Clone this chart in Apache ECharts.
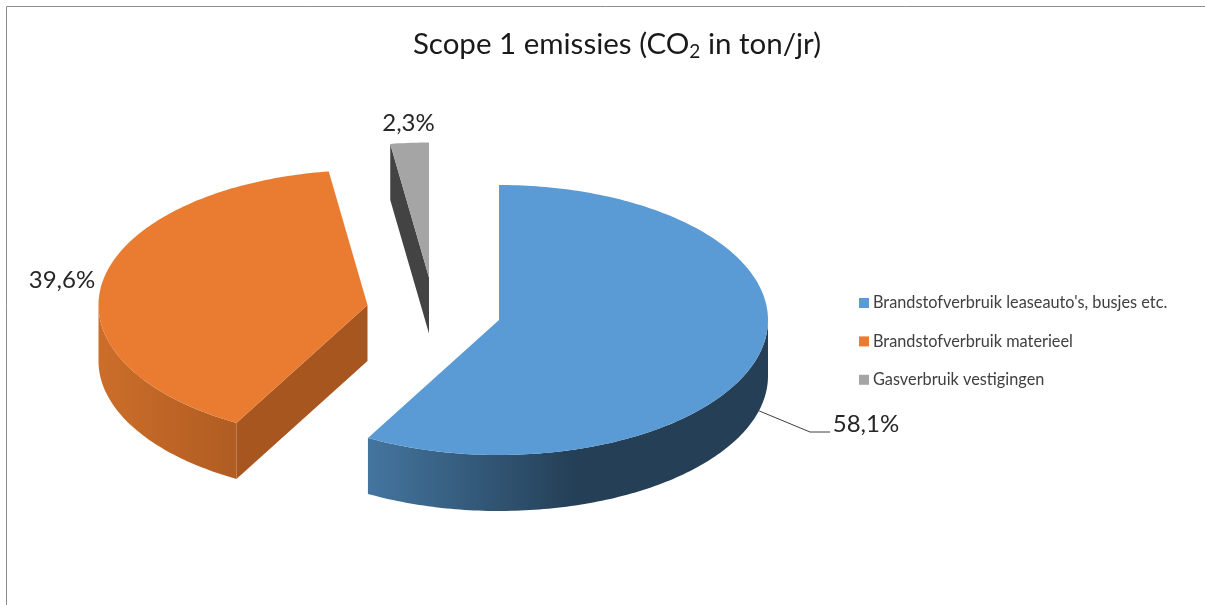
<!DOCTYPE html>
<html>
<head>
<meta charset="utf-8">
<style>html,body{margin:0;padding:0;background:#fff}#c{width:1205px;height:605px}</style>
<script src="https://cdn.jsdelivr.net/npm/echarts@6/dist/echarts.min.js"></script>
</head>
<body>
<div id="c"></div>
<script>
// Data
var categories = ["Brandstofverbruik leaseauto's, busjes etc.", "Brandstofverbruik materieel", "Gasverbruik vestigingen"];
var values = [58.1, 39.6, 2.3];
var titleText = 'Scope 1 emissies (CO{sub|2} in ton/jr)';

// Styles and layout of the tilted pie
var topColors = ['#5b9bd5', '#ea7c32', '#a5a5a5'];
var cutColors = ['#243f56', '#a85620', '#434343'];
var arcStops = [
  [[0, '#44759f'], [0.52, '#243f56'], [1, '#243f56']],
  [[0, '#cc6e2a'], [1, '#b05c22']],
  [[0, '#434343'], [1, '#434343']]
];
var centers = [[499, 320], [367.5, 305], [429, 277.5]];
var labelAnchors = [[866, 424], [62, 280], [408.5, 123]];
var RX = 269, RY = 135, DEPTH = 56;
var leader = [[757, 410], [810, 432], [830, 432]];

var total = values.reduce(function (a, b) { return a + b; }, 0);
var startAngles = [];
values.reduce(function (acc, v, i) { startAngles[i] = acc; return acc + v / total * 360; }, 0);

function pt(c, deg, dy) {
  var t = deg * Math.PI / 180;
  return [c[0] + RX * Math.sin(t), c[1] - RY * Math.cos(t) + (dy || 0)];
}
function arc(c, a, b, dy) {
  var out = [], n = Math.max(2, Math.ceil(Math.abs(b - a)));
  for (var k = 0; k <= n; k++) out.push(pt(c, a + (b - a) * k / n, dy));
  return out;
}
function fmt(v) { return v.toFixed(1).replace('.', ',') + '%'; }

function renderSlice(i) {
  var c = centers[i], a = startAngles[i], b = a + values[i] / total * 360;
  var kids = [];
  // outer wall: only the front half of the ellipse (90..270 degrees) is visible
  var fa = Math.max(a, 90), fb = Math.min(b, 270);
  if (fb > fa) {
    var upper = arc(c, fa, fb, 0), lower = arc(c, fb, fa, DEPTH);
    var xs = upper.map(function (p) { return p[0]; });
    var x0 = Math.min.apply(null, xs), x1 = Math.max.apply(null, xs);
    kids.push({
      type: 'polygon', shape: { points: upper.concat(lower) },
      style: {
        fill: {
          type: 'linear', x: x0, y: 0, x2: x1, y2: 0, global: true,
          colorStops: arcStops[i].map(function (s) { return { offset: s[0], color: s[1] }; })
        }
      }
    });
  }
  // cut walls that face the viewer
  function cut(deg) {
    var e = pt(c, deg, 0), f = pt(c, deg, DEPTH);
    kids.push({
      type: 'polygon',
      shape: { points: [c, e, f, [c[0], c[1] + DEPTH]] },
      style: { fill: cutColors[i] }
    });
  }
  if (Math.sin(a * Math.PI / 180) < -1e-6) cut(a);
  if (Math.sin(b * Math.PI / 180) > 1e-6) cut(b);
  // top face
  kids.push({
    type: 'polygon', shape: { points: [c].concat(arc(c, a, b, 0)) },
    style: { fill: topColors[i] }
  });
  // value label
  kids.push({
    type: 'text', x: labelAnchors[i][0], y: labelAnchors[i][1],
    style: {
      text: fmt(values[i]), fill: '#262626', font: '24px Lato, "Open Sans", sans-serif',
      align: 'center', verticalAlign: 'middle'
    }
  });
  if (i === 0) {
    kids.push({
      type: 'polyline', shape: { points: leader },
      style: { stroke: '#404040', lineWidth: 1, fill: null }
    });
  }
  return { type: 'group', children: kids };
}

var chart = echarts.init(document.getElementById('c'), null, { renderer: 'canvas' });
var drawOrder = [1, 2, 0];
chart.setOption({
  animation: false,
  backgroundColor: '#ffffff',
  title: {
    text: titleText, left: 612, top: 23, textAlign: 'center',
    textStyle: {
      fontFamily: 'Lato', fontSize: 29.5, fontWeight: 'normal', color: '#1a1a1a',
      rich: { sub: { fontFamily: 'Lato', fontSize: 19, color: '#1a1a1a', padding: [14, 0, 0, 0] } }
    }
  },
  legend: {
    orient: 'vertical', left: 859, top: 295, icon: 'rect',
    itemWidth: 10, itemHeight: 10, itemGap: 22.4, padding: 0,
    data: categories, selectedMode: false,
    textStyle: { fontFamily: 'Lato', fontSize: 16.3, color: '#404040', padding: [0, 0, 0, -1] }
  },
  graphic: [{
    type: 'polyline', silent: true, z: -1,
    shape: { points: [[6.5, 605], [6.5, 6.5], [1205, 6.5]] },
    style: { stroke: '#8c8c8c', lineWidth: 1, fill: null }
  }],
  series: drawOrder.map(function (i) {
    return {
      type: 'custom', name: categories[i], coordinateSystem: 'none', silent: true,
      itemStyle: { color: topColors[i] },
      data: [values[i]],
      renderItem: function () { return renderSlice(i); }
    };
  })
});
</script>
</body>
</html>
